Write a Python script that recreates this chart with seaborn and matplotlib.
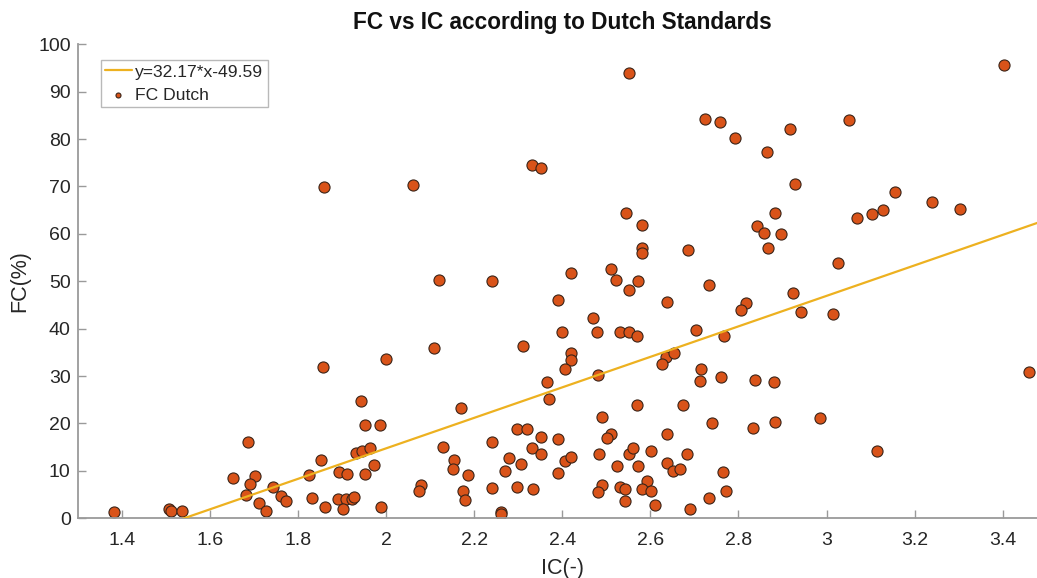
import numpy as np
import pandas as pd
import matplotlib
matplotlib.use("Agg")
import matplotlib.pyplot as plt
from matplotlib.ticker import FuncFormatter
import seaborn as sns

# Measured index of consistency (IC) and fines content (FC, %)
ic_values = [
    1.859, 2.061, 2.331, 2.351,
    2.551, 2.725, 2.758, 2.792, 2.916, 2.865, 2.928, 2.545, 2.581, 2.884,
    2.842, 2.857, 2.896, 2.867, 2.581, 2.581, 2.685, 2.421, 2.511,
    3.403, 3.052, 3.156, 3.240, 3.304, 3.069, 3.104, 3.128, 3.025,
    1.382, 1.508, 1.513, 1.537, 1.687, 1.652, 1.703, 1.692, 1.682, 1.712,
    1.727, 1.744, 1.761, 1.773, 1.826, 1.832,
    1.858, 1.852, 1.861, 1.893, 1.912, 1.892, 1.910, 1.902, 1.923, 1.928,
    1.943, 1.932, 1.946, 1.964, 1.952, 1.986, 1.952, 1.973, 1.988, 2.000,
    2.110, 2.121, 2.240, 2.310, 2.366, 2.371, 2.171, 2.130, 2.154, 2.153,
    2.185, 2.174, 2.180, 2.079, 2.075, 2.260, 2.262, 2.240, 2.240, 2.279,
    2.271, 2.297, 2.320, 2.351, 2.331, 2.351, 2.306, 2.297, 2.334,
    2.522, 2.573, 2.551, 2.734, 2.391, 2.638, 2.923, 2.817, 2.806, 2.471,
    2.400, 2.478, 2.531, 2.552, 2.569, 2.703, 2.767, 2.420, 2.421, 2.406,
    2.482, 2.635, 2.654, 2.627, 2.715, 2.713, 2.760, 2.838, 2.880, 2.569,
    2.675, 2.491, 2.741, 2.832, 2.882, 2.391, 2.510, 2.502, 2.637, 2.406,
    2.421, 2.484, 2.552, 2.561, 2.601, 2.683, 2.391, 2.524, 2.571, 2.637,
    2.652, 2.668, 2.764, 2.491, 2.482, 2.531, 2.543, 2.543, 2.592, 2.582,
    2.602, 2.611, 2.690, 2.734, 2.772,
    2.942, 3.015, 2.985, 3.114, 3.460,
]
fc_values = [
    69.8, 70.4, 74.5, 74.0,
    93.9, 84.3, 83.6, 80.3, 82.1, 77.3, 70.6, 64.3, 61.8, 64.3,
    61.7, 60.1, 60.0, 57.0, 57.0, 56.0, 56.6, 51.8, 52.5,
    95.6, 84.0, 68.9, 66.8, 65.3, 63.3, 64.1, 65.0, 53.8,
    1.4, 2.0, 1.5, 1.6, 16.1, 8.6, 9.0, 7.2, 4.9, 3.2,
    1.6, 6.6, 4.6, 3.6, 9.1, 4.3,
    32.0, 12.2, 2.3, 9.7, 9.3, 4.0, 4.0, 2.0, 4.0, 4.4,
    24.7, 13.7, 14.2, 14.9, 19.7, 19.6, 9.3, 11.2, 2.4, 33.6,
    36.0, 50.3, 50.1, 36.3, 28.7, 25.2, 23.3, 15.0, 12.2, 10.3,
    9.1, 5.8, 3.9, 7.0, 5.8, 1.3, 0.9, 16.1, 6.4, 12.8,
    10.0, 18.8, 18.8, 17.1, 14.8, 13.5, 11.5, 6.6, 6.1,
    50.3, 50.1, 48.2, 49.2, 46.1, 45.7, 47.5, 45.5, 43.9, 42.2,
    39.2, 39.2, 39.4, 39.4, 38.5, 39.8, 38.5, 34.8, 33.4, 31.6,
    30.2, 34.0, 34.8, 32.5, 31.5, 29.0, 29.9, 29.2, 28.8, 23.8,
    23.8, 21.4, 20.0, 19.0, 20.4, 16.7, 17.8, 17.0, 17.7, 12.1,
    12.9, 13.6, 13.6, 14.8, 14.3, 13.6, 9.5, 11.1, 11.1, 11.6,
    10.0, 10.3, 9.7, 7.0, 5.6, 6.7, 6.2, 3.7, 7.9, 6.2,
    5.8, 2.7, 2.0, 4.3, 5.8,
    43.5, 43.0, 21.2, 14.3, 30.9,
]

# Linear fit coefficients: FC = slope * IC + intercept
fit_slope = 32.17
fit_intercept = -49.59

x_limits = [1.3, 3.5]
y_limits = [0, 100]
x_ticks = [1.4, 1.6, 1.8, 2.0, 2.2, 2.4, 2.6, 2.8, 3.0, 3.2, 3.4]
y_ticks = [0, 10, 20, 30, 40, 50, 60, 70, 80, 90, 100]

points = pd.DataFrame({"IC": ic_values, "FC": fc_values})
fit_x = np.array(x_limits)
fit = pd.DataFrame({"IC": fit_x, "FC": fit_slope * fit_x + fit_intercept})
fit_label = f"y={fit_slope:.2f}*x{fit_intercept:+.2f}"

sns.set_theme(style="white")
plt.rcParams["font.family"] = ["Liberation Sans", "DejaVu Sans"]

text_color = "#262626"
axis_color = "#9a9a9a"
dot_color = "#D95319"
line_color = "#EDB120"

fig = plt.figure(figsize=(10.37, 5.78), dpi=100)
ax = fig.add_axes([0.0749, 0.1033, 0.9345, 0.8201])

sns.lineplot(data=fit, x="IC", y="FC", ax=ax, color=line_color,
             linewidth=1.6, label=fit_label, zorder=3)
sns.scatterplot(data=points, x="IC", y="FC", ax=ax, s=64, color=dot_color,
                edgecolor="#3a2418", linewidth=0.8, label="FC Dutch", zorder=2)

ax.set_xlim(x_limits)
ax.set_ylim(y_limits)
ax.set_xticks(x_ticks)
ax.set_yticks(y_ticks)
ax.xaxis.set_major_formatter(FuncFormatter(lambda v, p: f"{v:g}"))
ax.yaxis.set_major_formatter(FuncFormatter(lambda v, p: f"{v:g}"))

for side in ["top", "right"]:
    ax.spines[side].set_visible(False)
for side in ["left", "bottom"]:
    ax.spines[side].set_color(axis_color)
    ax.spines[side].set_linewidth(1.3)

ax.tick_params(axis="both", which="major", bottom=True, left=True,
               top=False, right=False, direction="in", length=5.5, width=1.0,
               color=axis_color, labelcolor=text_color, labelsize=14)
ax.tick_params(axis="x", pad=10)
ax.tick_params(axis="y", pad=5)

ax.set_xlabel("IC(-)", fontsize=15.5, color=text_color, labelpad=6)
ax.set_ylabel("FC(%)", fontsize=15.5, color=text_color, labelpad=6)
ax.set_title("FC vs IC according to Dutch Standards", fontsize=16.3,
             fontweight="bold", color="#111111", pad=11)

handles, labels = ax.get_legend_handles_labels()
order = [labels.index(fit_label), labels.index("FC Dutch")]
leg = ax.legend([handles[i] for i in order], [labels[i] for i in order],
                loc="upper left", bbox_to_anchor=(0.024, 0.967),
                borderaxespad=0, fontsize=12.6, frameon=True, fancybox=False,
                handlelength=1.5, handletextpad=0.2, labelspacing=0.45,
                borderpad=0.25, markerscale=0.45)
leg.get_frame().set_edgecolor("#a8a8a8")
leg.get_frame().set_linewidth(1.0)
for t in leg.get_texts():
    t.set_color(text_color)

fig.savefig("out.png", dpi=100)
